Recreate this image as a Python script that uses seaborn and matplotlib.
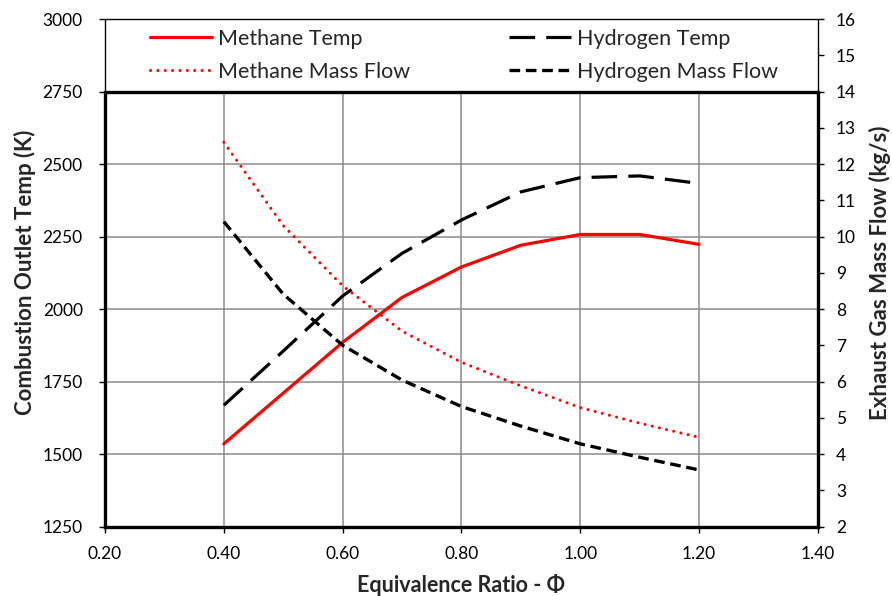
import matplotlib
matplotlib.use("Agg")
import matplotlib.pyplot as plt
import matplotlib.ticker as mticker
from matplotlib.patches import Rectangle
import numpy as np
import pandas as pd
import seaborn as sns

# values
phi = [0.4, 0.5, 0.6, 0.7, 0.8, 0.9, 1.0, 1.1, 1.2]
methane_temp = [1535, 1710, 1885, 2040, 2145, 2220, 2257, 2257, 2223]
hydrogen_temp = [1668, 1855, 2045, 2192, 2307, 2404, 2453, 2459, 2433]
methane_flow = [12.6, 10.3, 8.64, 7.39, 6.53, 5.88, 5.28, 4.85, 4.46]
hydrogen_flow = [10.41, 8.41, 7.0, 6.04, 5.31, 4.77, 4.28, 3.91, 3.56]

x_ticks = [0.2, 0.4, 0.6, 0.8, 1.0, 1.2, 1.4]
temp_ticks = [1250, 1500, 1750, 2000, 2250, 2500, 2750, 3000]
flow_ticks = list(range(2, 17))

sns.set_style("white")
plt.rcParams['font.family'] = ['Lato', 'DejaVu Sans']

df = pd.DataFrame({'phi': phi, 'mt': methane_temp, 'ht': hydrogen_temp,
                   'mf': methane_flow, 'hf': hydrogen_flow})

fig = plt.figure(figsize=(8.92, 5.96), dpi=100)
ax = fig.add_axes([0.1177, 0.1166, 0.7993, 0.8515])
ax2 = ax.twinx()

sns.lineplot(data=df, x='phi', y='mt', ax=ax, color='#ff0000', lw=2.3,
             label='Methane Temp', legend=False)
sns.lineplot(data=df, x='phi', y='ht', ax=ax, color='black', lw=2.3,
             linestyle=(0, (8, 3.5)), label='Hydrogen Temp', legend=False)
sns.lineplot(data=df, x='phi', y='mf', ax=ax2, color='#ff0000', lw=2.2,
             linestyle=(0, (0.01, 2.4)), dash_capstyle='round',
             label='Methane Mass Flow', legend=False)
sns.lineplot(data=df, x='phi', y='hf', ax=ax2, color='black', lw=2.4,
             linestyle=(0, (3.2, 1.7)), label='Hydrogen Mass Flow', legend=False)

ax.set_xlim(0.2, 1.4)
ax.set_ylim(1250, 3000)
ax2.set_ylim(2, 16)
ax.set_xticks(x_ticks)
ax.set_yticks(temp_ticks)
ax2.set_yticks(flow_ticks)
ax.xaxis.set_major_formatter(mticker.FormatStrFormatter('%.2f'))

ax.grid(True, color='#8c8c8c', lw=1.1)
ax.set_axisbelow(True)

ax.tick_params(axis='both', labelsize=12.5, direction='out', length=4, width=1,
               colors='black', left=True, bottom=True)
ax.tick_params(axis='y', pad=12)
ax.tick_params(axis='x', pad=10)
ax2.tick_params(axis='y', labelsize=12.5, direction='out', length=4, width=1,
                colors='black', pad=9, right=True)

for s in ['top', 'right']:
    ax.spines[s].set_visible(False)
for s in ['top', 'left', 'bottom']:
    ax2.spines[s].set_visible(False)
ax.spines['left'].set_bounds(1250, 2750)
ax2.spines['right'].set_bounds(2, 14)
for sp in [ax.spines['left'], ax.spines['bottom'], ax2.spines['right']]:
    sp.set_linewidth(2.4)
    sp.set_color('black')
    sp.set_capstyle('projecting')
ax2.axhline(14, color='black', lw=2.4, zorder=6, solid_capstyle='projecting')

ax.set_xlabel('Equivalence Ratio - Φ', fontsize=15.5, fontweight='bold', labelpad=9)
ax.set_ylabel('Combustion Outlet Temp (K)', fontsize=16, fontweight='bold', labelpad=5)
ax2.set_ylabel('Exhaust Gas Mass Flow (kg/s)', fontsize=16, fontweight='bold', labelpad=9)

# legend box sitting over the top band of the plot
box = Rectangle((0, 14), 1, 2, transform=ax2.get_yaxis_transform(),
                facecolor='white', edgecolor='black', lw=1.0, zorder=4,
                clip_on=False)
ax2.add_patch(box)

h1, l1 = ax.get_legend_handles_labels()
h2, l2 = ax2.get_legend_handles_labels()
handles = [h1[0], h2[0], h1[1], h2[1]]
labels = [l1[0], l2[0], l1[1], l2[1]]
leg = ax2.legend(handles, labels, ncol=2, loc='center',
                 bbox_to_anchor=(0.503, 0.9285), frameon=False,
                 fontsize=15.5, handlelength=2.9, handletextpad=0.25,
                 labelspacing=0.62, borderpad=0.0, borderaxespad=0,
                 columnspacing=4.6)
leg.set_zorder(5)

fig.savefig('out.png', dpi=100)
